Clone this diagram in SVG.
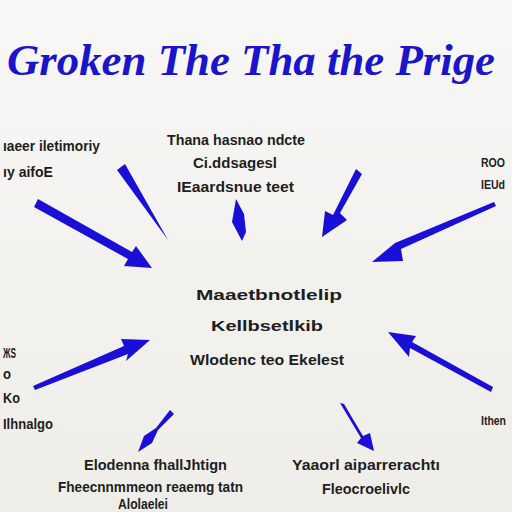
<svg xmlns="http://www.w3.org/2000/svg" width="512" height="512" viewBox="0 0 512 512">
<defs>
<linearGradient id="bg" x1="0" y1="0" x2="0" y2="1">
<stop offset="0" stop-color="#f7f7f6"/>
<stop offset="1" stop-color="#efede8"/>
</linearGradient>
<style>
.t{font-family:"Liberation Sans",Arial,sans-serif;font-weight:bold;fill:#1e1e1e;font-size:15px;}
.s{font-size:13px;}
.title{font-family:"Liberation Serif","Times New Roman",serif;font-weight:bold;font-style:italic;fill:#1a14cc;font-size:45px;}
.ar{fill:#1a0fd6;stroke:none;}
</style>
</defs>
<rect width="512" height="512" fill="url(#bg)"/>
<text class="title" x="7" y="75" textLength="488" lengthAdjust="spacingAndGlyphs">Groken The Tha the Prige</text>

<g id="n-topleft">
<text class="t" x="3" y="151" textLength="97" lengthAdjust="spacingAndGlyphs">ıaeer iletimoriy</text>
<text class="t" x="3" y="177" textLength="50" lengthAdjust="spacingAndGlyphs">ıy aifoЕ</text>
</g>
<g id="n-top">
<text class="t" x="167" y="145" textLength="138" lengthAdjust="spacingAndGlyphs">Thana hasnao ndcte</text>
<text class="t" x="193" y="168" textLength="84" lengthAdjust="spacingAndGlyphs">Ci.ddsagesl</text>
<text class="t" x="177" y="192" textLength="117" lengthAdjust="spacingAndGlyphs">IEaardsnue teet</text>
</g>
<g id="n-right">
<text class="t s" x="481" y="167" textLength="24" lengthAdjust="spacingAndGlyphs">ROO</text>
<text class="t s" x="481" y="189" textLength="24" lengthAdjust="spacingAndGlyphs">IEUd</text>
</g>
<g id="n-center">
<text class="t" x="196" y="300" textLength="146" lengthAdjust="spacingAndGlyphs">Maaetbnotlelip</text>
<text class="t" x="211" y="331" textLength="112" lengthAdjust="spacingAndGlyphs">Kellbsetlkib</text>
<text class="t" x="190" y="365" textLength="154" lengthAdjust="spacingAndGlyphs">Wlodenc teo Ekelest</text>
</g>
<g id="n-left">
<text class="t" x="3" y="358" textLength="13" lengthAdjust="spacingAndGlyphs">ЖS</text>
<text class="t" x="3" y="379" textLength="8" lengthAdjust="spacingAndGlyphs">o</text>
<text class="t" x="3" y="403" textLength="17" lengthAdjust="spacingAndGlyphs">Ko</text>
<text class="t" x="3" y="429" textLength="50" lengthAdjust="spacingAndGlyphs">Ilhnalgo</text>
</g>
<g id="n-right2">
<text class="t s" x="481" y="425" textLength="25" lengthAdjust="spacingAndGlyphs">Ithen</text>
</g>
<g id="n-bottomleft">
<text class="t" x="84" y="470" textLength="143" lengthAdjust="spacingAndGlyphs">Elodenna fhallJhtign</text>
<text class="t" x="58" y="492" textLength="185" lengthAdjust="spacingAndGlyphs">Fheecnnmmeon reaemg tatn</text>
<text class="t" x="118" y="509" textLength="50" lengthAdjust="spacingAndGlyphs">Alolaelei</text>
</g>
<g id="n-bottomright">
<text class="t" x="292" y="470" textLength="148" lengthAdjust="spacingAndGlyphs">Yaaorl aiparrerachtı</text>
<text class="t" x="322" y="494" textLength="88" lengthAdjust="spacingAndGlyphs">Fleocroelivlc</text>
</g>

<g id="connectors">
<polygon class="ar" points="117,170 125,164 168,240"/>
<polygon class="ar" points="34,207 38,199 132,252 136,246 152,268 124,266 128,259"/>
<polygon class="ar" points="236,199 244,214 246,232 242,241 232,222"/>
<polygon class="ar" points="356,169 362,174 340,213 347,220 322,237 325,211 333,215"/>
<polygon class="ar" points="494,202 496,206 401,249 403,261 372,262 395,243"/>
<polygon class="ar" points="33,386 35,390 128,354 126,361 150,340 121,339 124,346"/>
<polygon class="ar" points="493,387 491,392 410,348 409,357 388,332 416,336 412,342"/>
<polygon class="ar" points="170,410 174,414 158,430 152,443 138,452 144,436 156,428"/>
<polygon class="ar" points="340,403 344,404 363,436 370,433 374,451 357,443 361,438"/>
</g>
</svg>
